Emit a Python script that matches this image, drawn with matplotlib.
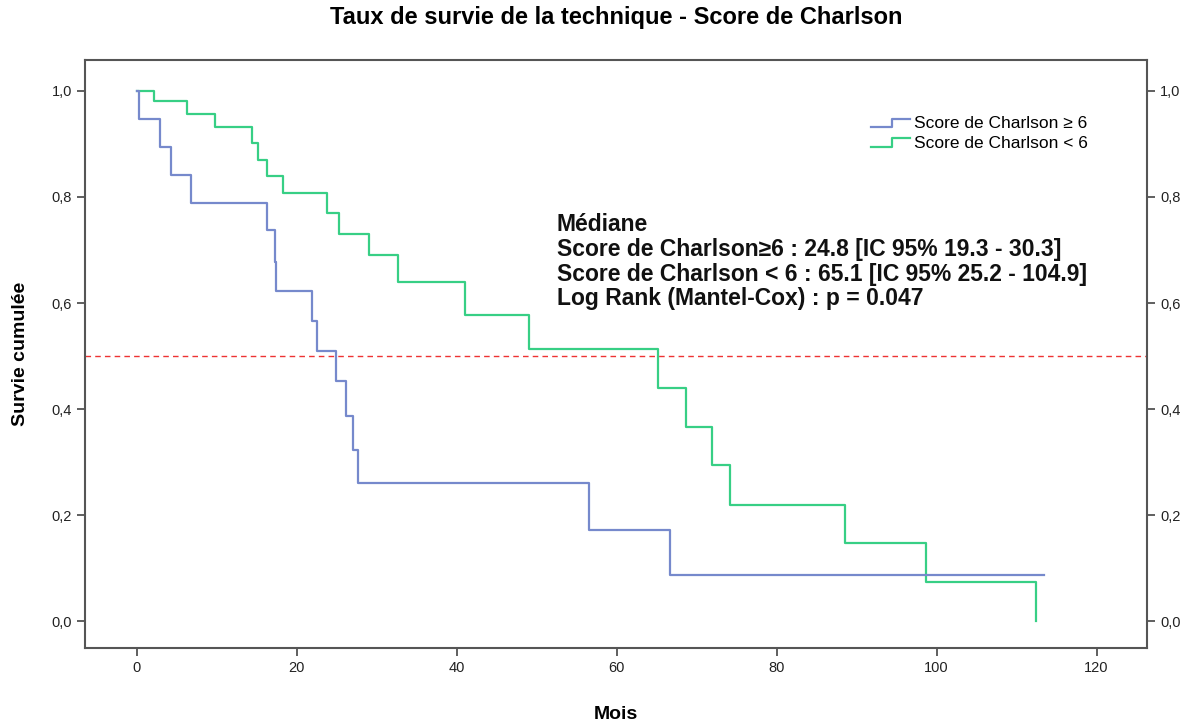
import matplotlib
matplotlib.use("Agg")
import matplotlib.pyplot as plt
from matplotlib.legend_handler import HandlerLine2D
from matplotlib.lines import Line2D
from matplotlib.ticker import FuncFormatter

plt.rcParams['font.family'] = ['Liberation Sans', 'DejaVu Sans']

# Data
blue_t = [0, 0.25, 2.9, 4.2, 6.7, 16.2, 17.2, 17.4, 21.9, 22.5, 24.9, 26.1, 27.0, 27.7, 56.5, 66.7, 113.4]
blue_s = [1.0, 0.947, 0.895, 0.842, 0.789, 0.737, 0.678, 0.623, 0.567, 0.509, 0.453, 0.387, 0.324, 0.260, 0.173, 0.087, 0.087]
green_t = [0, 2.1, 6.3, 9.8, 14.4, 15.1, 16.3, 18.2, 23.8, 25.3, 29.0, 32.6, 41.0, 49.0, 65.1, 68.6, 71.9, 74.2, 88.5, 98.7, 112.4]
green_s = [1.0, 0.980, 0.957, 0.931, 0.901, 0.870, 0.840, 0.808, 0.770, 0.731, 0.691, 0.640, 0.577, 0.513, 0.440, 0.367, 0.294, 0.220, 0.147, 0.074, 0.0]
series_labels = ["Score de Charlson \u2265 6", "Score de Charlson < 6"]
x_ticks = [0, 20, 40, 60, 80, 100, 120]
y_ticks = [0.0, 0.2, 0.4, 0.6, 0.8, 1.0]
median_level = 0.5
annotation = ["M\u00e9diane",
              "Score de Charlson\u22656 : 24.8 [IC 95% 19.3 - 30.3]",
              "Score de Charlson < 6 : 65.1 [IC 95% 25.2 - 104.9]",
              "Log Rank (Mantel-Cox) : p = 0.047"]

BLUE = '#7689cc'
GREEN = '#37cf85'


class StepHandler(HandlerLine2D):
    def create_artists(self, legend, orig_handle, xdescent, ydescent,
                       width, height, fontsize, trans):
        x0 = -xdescent
        y0 = -ydescent
        xs = [x0, x0 + width * 0.55, x0 + width * 0.55, x0 + width]
        ys = [y0 + height * 0.1, y0 + height * 0.1, y0 + height * 0.8, y0 + height * 0.8]
        ln = Line2D(xs, ys, color=orig_handle.get_color(), lw=orig_handle.get_linewidth())
        ln.set_transform(trans)
        return [ln]


fig = plt.figure(figsize=(11.92, 7.22), dpi=100)
ax = fig.add_axes([85 / 1192, 1 - 648 / 722, (1147 - 85) / 1192, (648 - 60) / 722])

ax.axhline(median_level, color='#ee3333', lw=1.0, ls=(0, (4, 3)), zorder=1)
lb, = ax.step(blue_t, blue_s, where='post', color=BLUE, lw=1.6, label=series_labels[0], zorder=3)
lg, = ax.step(green_t, green_s, where='post', color=GREEN, lw=1.6, label=series_labels[1], zorder=2)

ax.set_xlim(-6.5, 126.3)
ax.set_ylim(-0.05, 1.058)
ax.set_xticks(x_ticks)
ax.set_yticks(y_ticks)
fmt = FuncFormatter(lambda v, p: f"{v:.1f}".replace('.', ','))
ax.yaxis.set_major_formatter(fmt)
ax.tick_params(axis='both', direction='out', length=6, width=1.2, color='#444444',
               labelsize=10.5, labelcolor='#222222')
ax.tick_params(axis='y', right=True, labelright=True)
for sp in ax.spines.values():
    sp.set_color('#555555')
    sp.set_linewidth(1.5)

ax.set_xlabel("Mois", fontsize=14, fontweight='bold', labelpad=22)
ax.set_ylabel("Survie cumul\u00e9e", fontsize=14, fontweight='bold', labelpad=16)
fig.suptitle("Taux de survie de la technique - Score de Charlson", fontsize=17,
             fontweight='bold', x=(323 + 910) / 2 / 1192, y=1 - 6 / 722, va='top')

ax.legend(handles=[lb, lg], handler_map={Line2D: StepHandler()}, frameon=False,
          loc='upper right', bbox_to_anchor=((1100 - 85) / 1062, (648 - 104) / 588),
          fontsize=12.5, handlelength=2.2, handletextpad=0.25, labelspacing=0.25,
          borderpad=0.2)

ax.text((557 - 85) / 1062, (648 - 213) / 588, "\n".join(annotation), transform=ax.transAxes,
        fontsize=16.5, fontweight='bold', va='top', ha='left', linespacing=1.1, color='#111111')

fig.savefig("out.png", dpi=100)
